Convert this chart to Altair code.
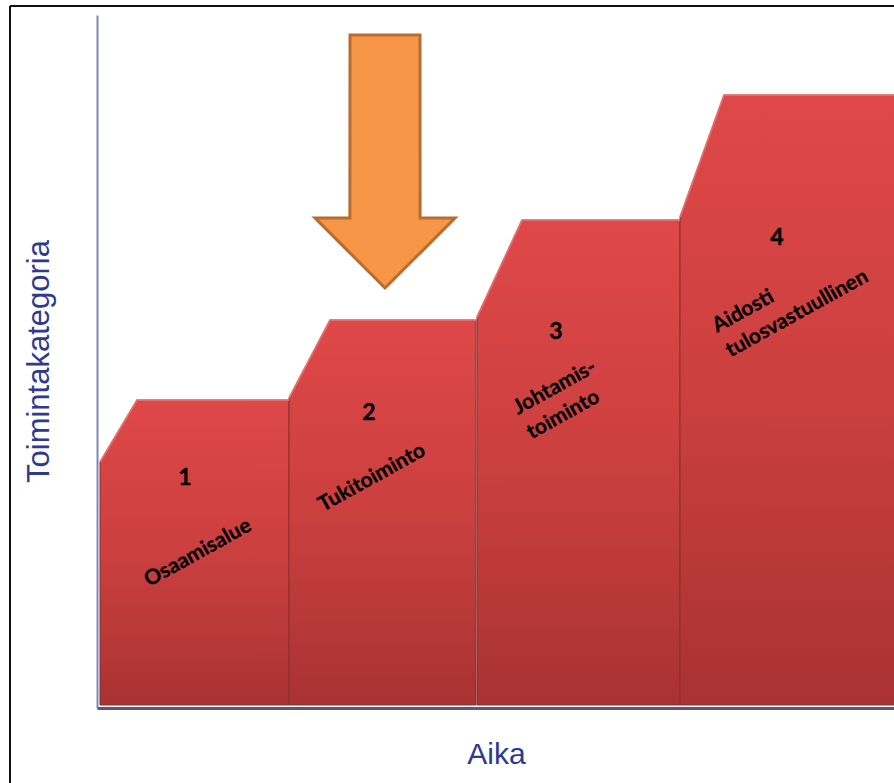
import altair as alt
import pandas as pd

# ---- diagram data (x = time units, y = category level units) ----
step_id = ["1", "2", "3", "4"]
step_start = [3, 192, 380, 583]
step_corner = [40, 233, 425, 627]
step_end = [192, 379, 583, 830]
step_low = [246, 310, 391, 491]
step_high = [308, 388, 488, 613]
step_base = 3

num_x = [88, 272, 459, 680]
num_y = [230, 295, 376, 470]

center_labels = ["Osaamisalue", "Tukitoiminto"]
center_x = [101, 275]
center_y = [155, 230]

left_labels = ["Johtamis-\ntoiminto", "Aidosti\ntulosvastuullinen"]
left_x = [421, 620]
left_y = [293, 375]

# orange arrow outline (x, upper edge, lower edge)
arrow_x = [218, 252.9, 253, 288, 323, 323.1, 358]
arrow_top = [490, 490, 673, 673, 673, 490, 490]
arrow_bottom = [490, 455.1, 455, 420, 455, 454.9, 490]

# frame
frame_left = -87
frame_top = 702
frame_bottom = -90
frame_right = 830

rows = []
for i, s in enumerate(step_id):
    rows.append({"step": s, "x": step_start[i], "y": step_low[i], "y2": step_base})
    rows.append({"step": s, "x": step_corner[i], "y": step_high[i], "y2": step_base})
    rows.append({"step": s, "x": step_end[i], "y": step_high[i], "y2": step_base})
df_steps = pd.DataFrame(rows)

df_arrow = pd.DataFrame({"x": arrow_x, "y": arrow_top, "y2": arrow_bottom})
df_num = pd.DataFrame({"x": num_x, "y": num_y, "t": step_id})
df_center = pd.DataFrame({"x": center_x, "y": center_y, "t": center_labels})
df_left = pd.DataFrame({"x": left_x, "y": left_y, "t": left_labels})

xs = alt.Scale(domain=[0, 797], nice=False, zero=False)
ys = alt.Scale(domain=[0, 693], nice=False, zero=False)

title_color = "#2e3a8f"

x_axis = alt.Axis(
    title="Aika", labels=False, ticks=False, grid=False,
    domainColor="#5d5580", domainWidth=3, titleFont="Liberation Sans",
    titleFontSize=30, titleFontWeight="normal", titleColor=title_color,
    titleX=399, titleY=55, titleBaseline="alphabetic", titleAlign="center",
    zindex=1,
)
y_axis = alt.Axis(
    title="Toimintakategoria", labels=False, ticks=False, grid=False,
    domainColor="#8088bb", domainWidth=2, titleFont="Liberation Sans",
    titleFontSize=31, titleFontWeight="normal", titleColor=title_color,
    titleX=-58, titleY=346, titleAngle=270, titleBaseline="middle",
    titleAlign="center",
)

X = alt.X("x:Q", scale=xs, axis=x_axis)
Y = alt.Y("y:Q", scale=ys, axis=y_axis, stack=None)

red_grad = alt.Gradient(
    gradient="linear",
    stops=[
        alt.GradientStop(color="#df4848", offset=0),
        alt.GradientStop(color="#cb3f3f", offset=0.5),
        alt.GradientStop(color="#a93232", offset=1),
    ],
    x1=0, x2=0, y1=0, y2=1,
)

steps = alt.Chart(df_steps).mark_area(
    color=red_grad, stroke="#8a2e2e", strokeWidth=1
).encode(x=X, y=Y, y2="y2:Q", detail="step:N")

highlight = alt.Chart(df_steps).mark_line(
    color="#ec7a7a", strokeWidth=2, opacity=0.8
).encode(x=X, y=Y, detail="step:N")

arrow = alt.Chart(df_arrow).mark_area(
    color="#f79646", stroke="#b86c2e", strokeWidth=3, strokeJoin="miter"
).encode(x=X, y=Y, y2="y2:Q")

nums = alt.Chart(df_num).mark_text(
    font="Lato", fontWeight="bold", fontSize=23, color="black", baseline="middle",
    stroke="black", strokeWidth=0.4
).encode(x=X, y=Y, text="t:N")

center_txt = alt.Chart(df_center).mark_text(
    font="Lato", fontWeight="bold", fontSize=21, color="black",
    angle=331, align="center", baseline="middle", stroke="black", strokeWidth=0.3
).encode(x=X, y=Y, text="t:N")

left_txt = alt.Chart(df_left).mark_text(
    font="Lato", fontWeight="bold", fontSize=21, color="black",
    angle=331, align="left", baseline="alphabetic", lineBreak="\n", lineHeight=28,
    stroke="black", strokeWidth=0.3
).encode(x=X, y=Y, text="t:N")

frame_v = alt.Chart(pd.DataFrame({"x": [frame_left], "y": [frame_bottom], "y2": [frame_top]})).mark_rule(
    color="#111111", strokeWidth=2
).encode(x=X, y=Y, y2="y2:Q")

frame_h = alt.Chart(pd.DataFrame({"x": [frame_left], "x2": [frame_right], "y": [frame_top]})).mark_rule(
    color="#111111", strokeWidth=2
).encode(x=X, x2="x2:Q", y=Y)

chart = alt.layer(steps, highlight, arrow, nums, center_txt, left_txt, frame_v, frame_h).properties(
    width=797, height=693,
    padding={"left": 97, "top": 15, "right": 0, "bottom": 75},
    autosize=alt.AutoSizeParams(type="none"),
    background="white",
).configure_view(stroke=None)

chart.save("out.html", embed_options={"renderer": "svg", "actions": False})
